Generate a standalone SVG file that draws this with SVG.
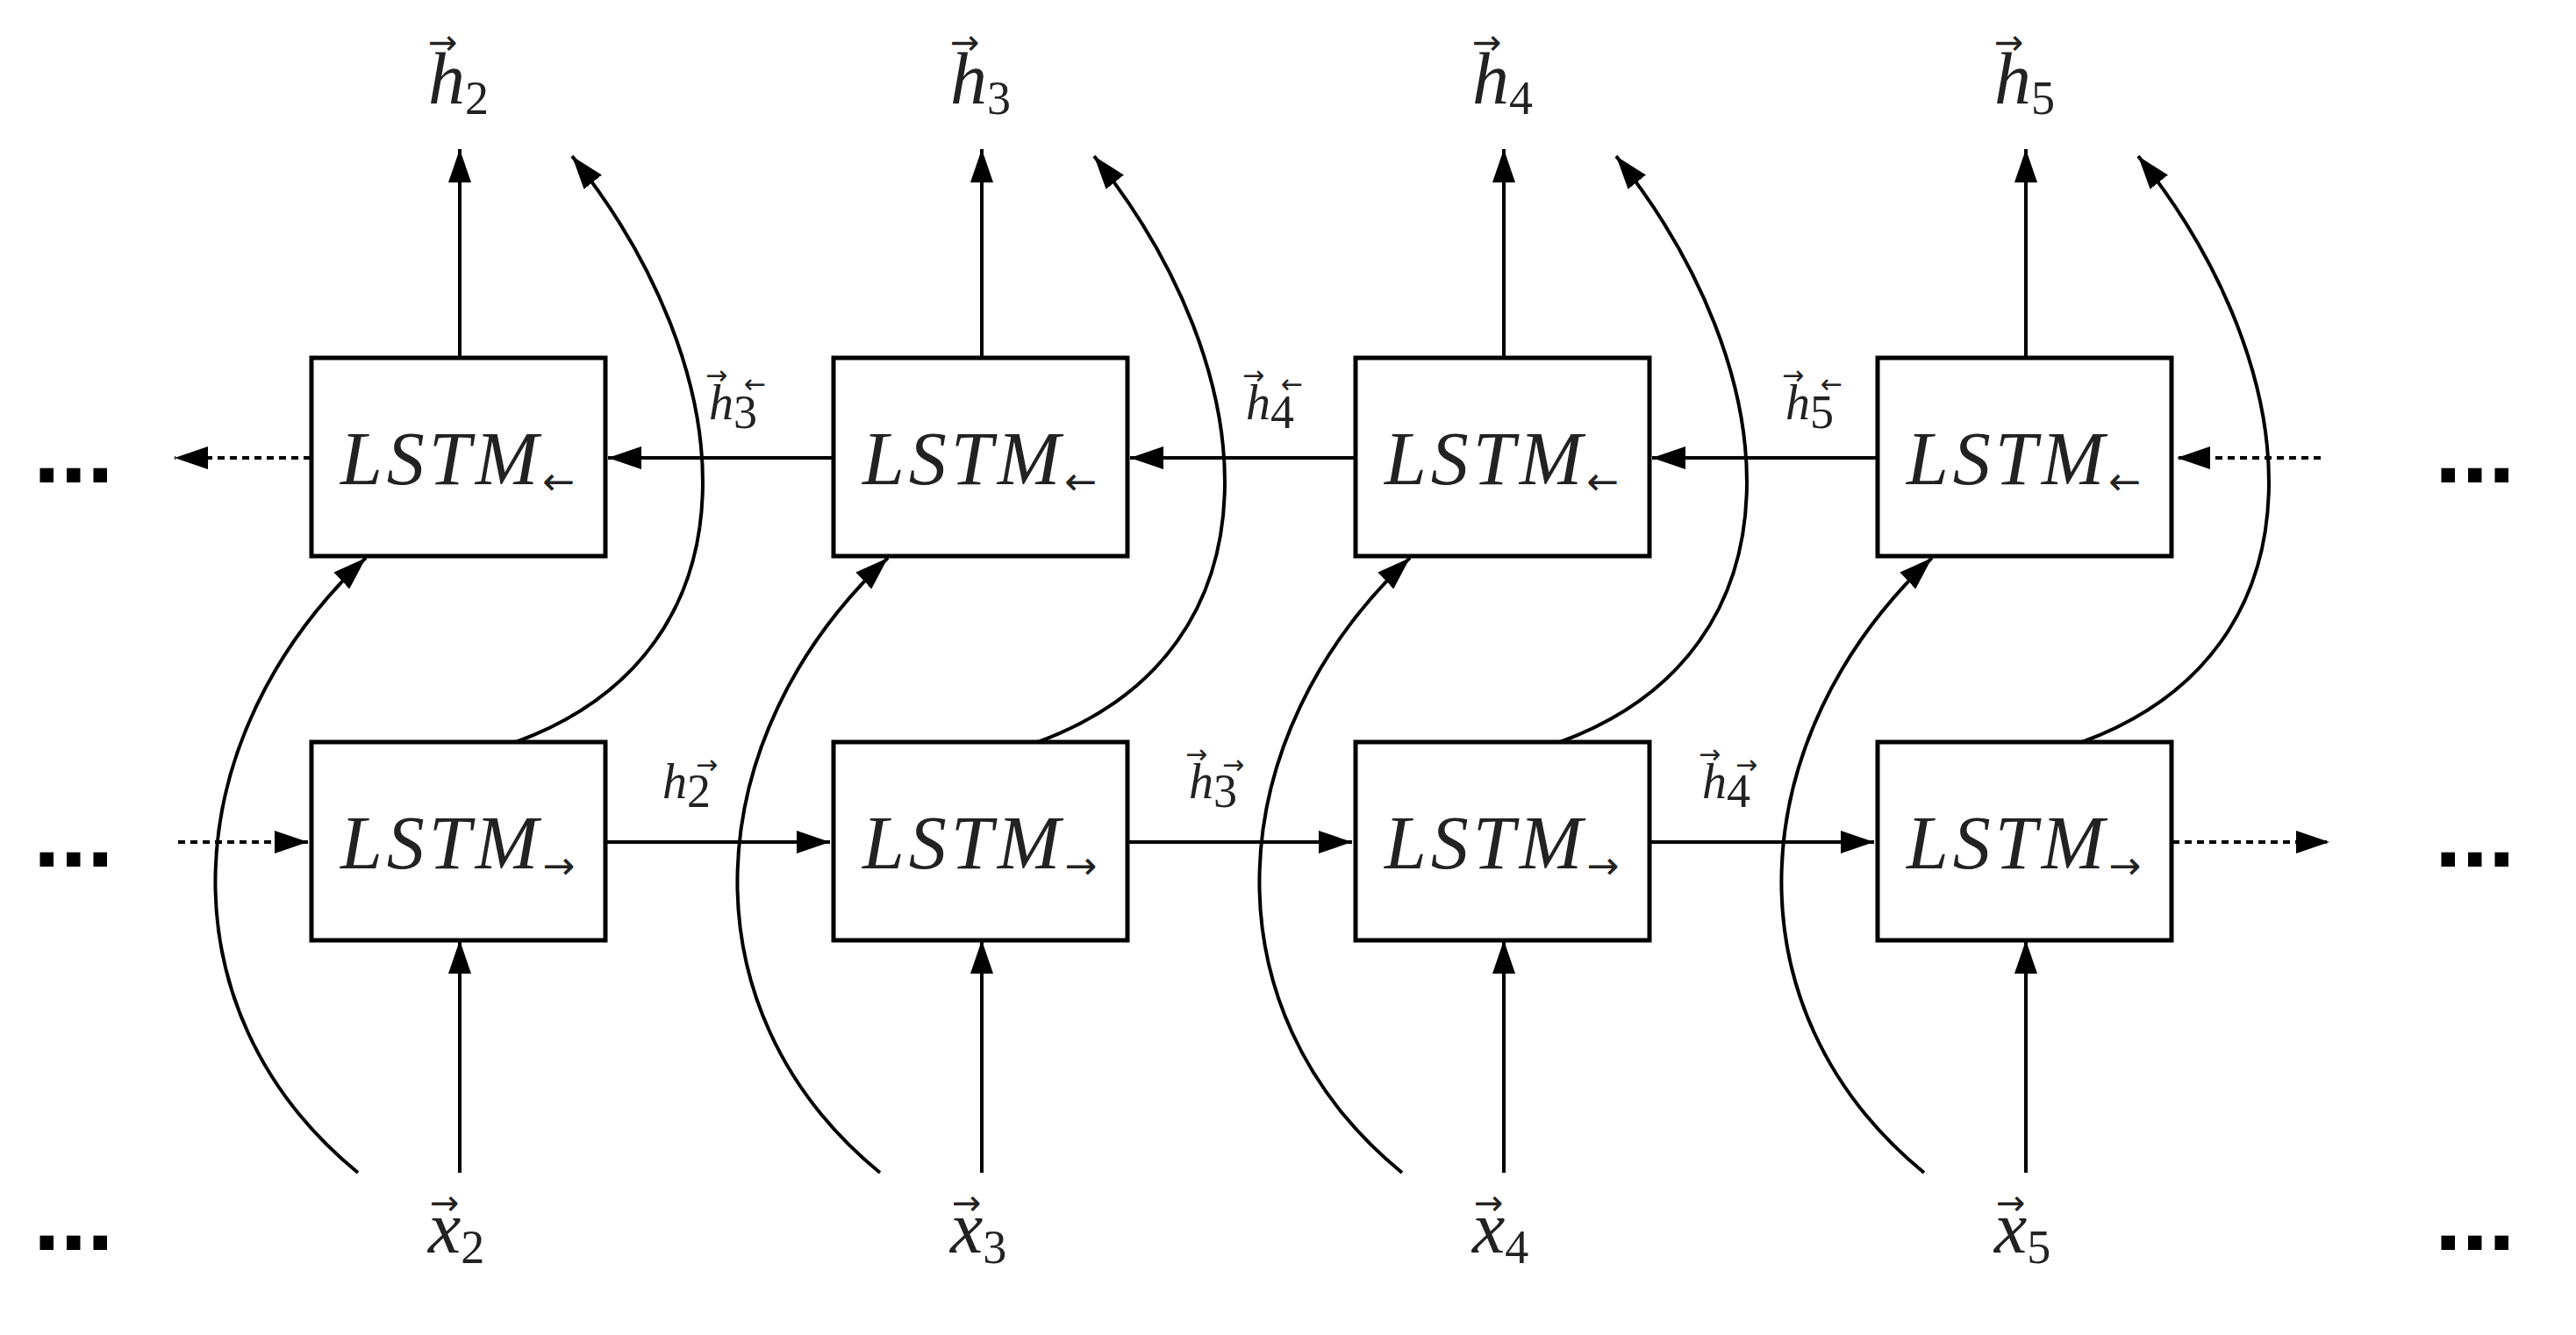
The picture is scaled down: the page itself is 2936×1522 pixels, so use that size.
<svg xmlns="http://www.w3.org/2000/svg" width="2936" height="1522" viewBox="0 0 2936 1522">
<style>
.box{fill:#fff;stroke:#000;stroke-width:5}
.ln{fill:none;stroke:#000;stroke-width:4}
.dot{fill:none;stroke:#000;stroke-width:4;stroke-dasharray:8 6}
.t{font-family:"Liberation Serif",serif;font-style:italic;fill:#222}
.lstm{font-size:86px;letter-spacing:5px}
.sub{font-style:normal;font-size:54px;letter-spacing:0}
.big{font-size:84px}
.mid{font-size:56px}
.ar{font-family:"DejaVu Sans",sans-serif;font-style:normal;fill:#222;letter-spacing:0}
.dots{font-family:"Liberation Sans",sans-serif;font-weight:bold;font-size:110px;fill:#000}
</style>
<defs>
<marker id="a" markerUnits="userSpaceOnUse" markerWidth="40" markerHeight="30" refX="38" refY="15" orient="auto"><path d="M0,2 L38,15 L0,28 Z" fill="#000"/></marker>
</defs>
<rect width="2936" height="1522" fill="#fff"/>
<g id="connectors">
<path class="ln" d="M524 408 V170" marker-end="url(#a)"/>
<path class="ln" d="M1119 408 V170" marker-end="url(#a)"/>
<path class="ln" d="M1714 408 V170" marker-end="url(#a)"/>
<path class="ln" d="M2309 408 V170" marker-end="url(#a)"/>
<path class="ln" d="M524 1337 V1072" marker-end="url(#a)"/>
<path class="ln" d="M1119 1337 V1072" marker-end="url(#a)"/>
<path class="ln" d="M1714 1337 V1072" marker-end="url(#a)"/>
<path class="ln" d="M2309 1337 V1072" marker-end="url(#a)"/>
<path class="ln" d="M949 522 H693" marker-end="url(#a)"/>
<path class="ln" d="M1544 522 H1288" marker-end="url(#a)"/>
<path class="ln" d="M2139 522 H1883" marker-end="url(#a)"/>
<path class="ln" d="M690 960 H946" marker-end="url(#a)"/>
<path class="ln" d="M1285 960 H1541" marker-end="url(#a)"/>
<path class="ln" d="M1880 960 H2136" marker-end="url(#a)"/>
<path class="dot" d="M354 522 H199" marker-end="url(#a)"/>
<path class="dot" d="M2645 522 H2481" marker-end="url(#a)"/>
<path class="dot" d="M203 960 H351" marker-end="url(#a)"/>
<path class="dot" d="M2476 960 H2655" marker-end="url(#a)"/>
<path class="ln" d="M588 846 C876 740 846 420 652 178" marker-end="url(#a)"/>
<path class="ln" d="M1183 846 C1471 740 1441 420 1247 178" marker-end="url(#a)"/>
<path class="ln" d="M1778 846 C2066 740 2036 420 1842 178" marker-end="url(#a)"/>
<path class="ln" d="M2373 846 C2661 740 2631 420 2437 178" marker-end="url(#a)"/>
<path class="ln" d="M408 1337 C180 1150 200 840 417 636" marker-end="url(#a)"/>
<path class="ln" d="M1003 1337 C775 1150 795 840 1012 636" marker-end="url(#a)"/>
<path class="ln" d="M1598 1337 C1370 1150 1390 840 1607 636" marker-end="url(#a)"/>
<path class="ln" d="M2193 1337 C1965 1150 1985 840 2202 636" marker-end="url(#a)"/>
</g>
<g id="n-b2"><rect class="box" x="355" y="408" width="335" height="226"/><text class="t lstm" x="388" y="552">LSTM<tspan class="ar" font-size="44" dy="12">←</tspan></text></g>
<g id="n-b3"><rect class="box" x="950" y="408" width="335" height="226"/><text class="t lstm" x="983" y="552">LSTM<tspan class="ar" font-size="44" dy="12">←</tspan></text></g>
<g id="n-b4"><rect class="box" x="1545" y="408" width="335" height="226"/><text class="t lstm" x="1578" y="552">LSTM<tspan class="ar" font-size="44" dy="12">←</tspan></text></g>
<g id="n-b5"><rect class="box" x="2140" y="408" width="335" height="226"/><text class="t lstm" x="2173" y="552">LSTM<tspan class="ar" font-size="44" dy="12">←</tspan></text></g>
<g id="n-f2"><rect class="box" x="355" y="846" width="335" height="226"/><text class="t lstm" x="388" y="990">LSTM<tspan class="ar" font-size="44" dy="12">→</tspan></text></g>
<g id="n-f3"><rect class="box" x="950" y="846" width="335" height="226"/><text class="t lstm" x="983" y="990">LSTM<tspan class="ar" font-size="44" dy="12">→</tspan></text></g>
<g id="n-f4"><rect class="box" x="1545" y="846" width="335" height="226"/><text class="t lstm" x="1578" y="990">LSTM<tspan class="ar" font-size="44" dy="12">→</tspan></text></g>
<g id="n-f5"><rect class="box" x="2140" y="846" width="335" height="226"/><text class="t lstm" x="2173" y="990">LSTM<tspan class="ar" font-size="44" dy="12">→</tspan></text></g>
<g id="outputs">
<text class="t big" x="488" y="118">h<tspan class="sub" dy="12">2</tspan></text><text class="ar" x="488" y="62" font-size="40">→</text>
<text class="t big" x="1083" y="118">h<tspan class="sub" dy="12">3</tspan></text><text class="ar" x="1083" y="62" font-size="40">→</text>
<text class="t big" x="1678" y="118">h<tspan class="sub" dy="12">4</tspan></text><text class="ar" x="1678" y="62" font-size="40">→</text>
<text class="t big" x="2273" y="118">h<tspan class="sub" dy="12">5</tspan></text><text class="ar" x="2273" y="62" font-size="40">→</text>
</g>
<g id="inputs">
<text class="t big" x="488" y="1428">x<tspan class="sub" dy="12">2</tspan></text><text class="ar" x="490" y="1385" font-size="40">→</text>
<text class="t big" x="1083" y="1428">x<tspan class="sub" dy="12">3</tspan></text><text class="ar" x="1085" y="1385" font-size="40">→</text>
<text class="t big" x="1678" y="1428">x<tspan class="sub" dy="12">4</tspan></text><text class="ar" x="1680" y="1385" font-size="40">→</text>
<text class="t big" x="2273" y="1428">x<tspan class="sub" dy="12">5</tspan></text><text class="ar" x="2275" y="1385" font-size="40">→</text>
</g>
<g id="state-labels">
<text class="t mid" x="808" y="478">h<tspan class="sub" font-size="38" dy="10">3</tspan></text><text class="ar" x="804" y="438" font-size="30">→</text><text class="ar" x="848" y="448" font-size="30">←</text>
<text class="t mid" x="1420" y="478">h<tspan class="sub" font-size="38" dy="10">4</tspan></text><text class="ar" x="1416" y="438" font-size="30">→</text><text class="ar" x="1460" y="448" font-size="30">←</text>
<text class="t mid" x="2035" y="478">h<tspan class="sub" font-size="38" dy="10">5</tspan></text><text class="ar" x="2031" y="438" font-size="30">→</text><text class="ar" x="2075" y="448" font-size="30">←</text>
<text class="t mid" x="755" y="910">h<tspan class="sub" font-size="38" dy="10">2</tspan></text><text class="ar" x="793" y="882" font-size="30">→</text>
<text class="t mid" x="1355" y="910">h<tspan class="sub" font-size="38" dy="10">3</tspan></text><text class="ar" x="1351" y="870" font-size="30">→</text><text class="ar" x="1393" y="882" font-size="30">→</text>
<text class="t mid" x="1940" y="910">h<tspan class="sub" font-size="38" dy="10">4</tspan></text><text class="ar" x="1936" y="870" font-size="30">→</text><text class="ar" x="1978" y="882" font-size="30">→</text>
</g>
<g id="ellipses">
<text class="dots" x="38" y="550">...</text><text class="dots" x="38" y="988">...</text><text class="dots" x="38" y="1425">...</text>
<text class="dots" x="2775" y="550">...</text><text class="dots" x="2775" y="988">...</text><text class="dots" x="2775" y="1425">...</text>
</g>
</svg>
